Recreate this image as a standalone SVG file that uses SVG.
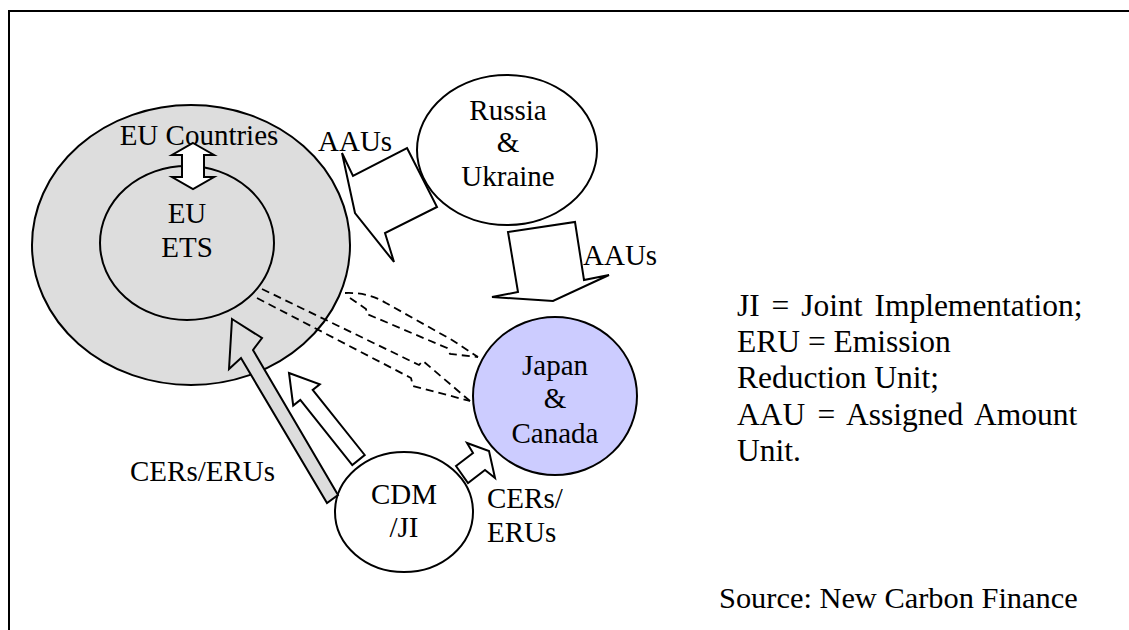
<svg xmlns="http://www.w3.org/2000/svg" width="1129" height="630" viewBox="0 0 1129 630">
  <style>
    text { font-family: 'Liberation Serif', Tinos, 'Times New Roman', Times, serif; fill: #000; }
    .lbl { font-size: 29px; }
    .leg { font-size: 31.5px; }
    .src { font-size: 30.4px; }
    .mid { text-anchor: middle; }
    .ln { stroke: #000; stroke-width: 2; stroke-linejoin: miter; }
    .dash { fill: none; stroke: #000; stroke-width: 1.8; stroke-dasharray: 8 5; stroke-linejoin: miter; }
  </style>
  <rect width="1129" height="630" fill="#fff"/>
  <!-- page frame -->
  <rect x="9" y="11" width="1140" height="640" fill="none" stroke="#000" stroke-width="2"/>

  <g id="eu-countries">
    <ellipse cx="191" cy="245" rx="159" ry="140" fill="#dddddd" class="ln"/>
    <text class="lbl mid" x="199" y="145">EU Countries</text>
  </g>
  <g id="eu-ets">
    <ellipse cx="187" cy="243" rx="87" ry="77" fill="#dddddd" class="ln"/>
    <text class="lbl mid" x="187" y="223">EU</text>
    <text class="lbl mid" x="187" y="257">ETS</text>
  </g>
  <g id="russia-ukraine">
    <ellipse cx="507" cy="150" rx="90" ry="75" fill="#fff" class="ln"/>
    <text class="lbl mid" x="508" y="120">Russia</text>
    <text class="lbl mid" x="508" y="152">&amp;</text>
    <text class="lbl mid" x="508" y="186">Ukraine</text>
  </g>
  <g id="japan-canada">
    <ellipse cx="555" cy="396" rx="82" ry="79" fill="#ccccff" class="ln"/>
    <text class="lbl mid" x="555" y="375">Japan</text>
    <text class="lbl mid" x="555" y="408">&amp;</text>
    <text class="lbl mid" x="555" y="443">Canada</text>
  </g>
  <g id="cdm-ji">
    <ellipse cx="404" cy="512" rx="69" ry="60" fill="#fff" class="ln"/>
    <text class="lbl mid" x="404" y="504">CDM</text>
    <text class="lbl mid" x="404" y="537">/JI</text>
  </g>

  <g id="connectors">
    <!-- EU Countries <-> EU ETS -->
    <polygon class="ln" fill="#fff" points="193,143 214,155 204,155 204,177 214,177 193,189 172,177 182,177 182,155 172,155"/>
    <!-- AAUs: Russia & Ukraine -> EU -->
    <polygon class="ln" fill="#fff" points="407,148 437,207 385,233 394,262 355,213 342,153 353,176"/>
    <!-- AAUs: Russia & Ukraine -> Japan & Canada -->
    <polygon class="ln" fill="#fff" points="508,232 575,222 584,280 609,275 553,301 492,297 518,292"/>
    <!-- dashed links: EU Countries -> Japan & Canada -->
    <path class="dash" d="M345,293 Q368,292 386,303 L452,340 L478,357"/>
    <path class="dash" d="M350,298 L366,309 L367,314 L447,348 L450,354 L478,357"/>
    <!-- dashed links: EU ETS -> Japan & Canada -->
    <path class="dash" d="M262,289 L419,365 L423,361 L470,401"/>
    <path class="dash" d="M257,298 L411,378 L413,386 L470,401"/>
    <!-- CERs/ERUs: CDM/JI -> EU ETS -->
    <polygon class="ln" fill="#dddddd" points="232,319 262,338 253,350 338,495 327,503 241,358 229,369"/>
    <!-- CDM/JI -> EU Countries -->
    <polygon class="ln" fill="#fff" points="289,373 319.8,384.3 312.7,389.9 364.7,455 352.3,465 300.3,399.9 293.2,405.5"/>
    <!-- CERs/ERUs: CDM/JI -> Japan & Canada -->
    <polygon class="ln" fill="#fff" points="456,466 473,453 467,443 489,451 495,478 485,470 468,483"/>
    <text class="lbl" x="318" y="151">AAUs</text>
    <text class="lbl" x="583" y="265">AAUs</text>
    <text class="lbl" x="130" y="481">CERs/ERUs</text>
    <text class="lbl" x="487" y="508">CERs/</text>
    <text class="lbl" x="487" y="542">ERUs</text>
  </g>

  <g id="legend">
    <text class="leg" x="737" y="316" word-spacing="4">JI = Joint Implementation;</text>
    <text class="leg" x="737" y="352">ERU = Emission</text>
    <text class="leg" x="737" y="388">Reduction Unit;</text>
    <text class="leg" x="737" y="425" word-spacing="4.5">AAU = Assigned Amount</text>
    <text class="leg" x="737" y="461">Unit.</text>
    <text class="src" x="719" y="608">Source: New Carbon Finance</text>
  </g>
</svg>
